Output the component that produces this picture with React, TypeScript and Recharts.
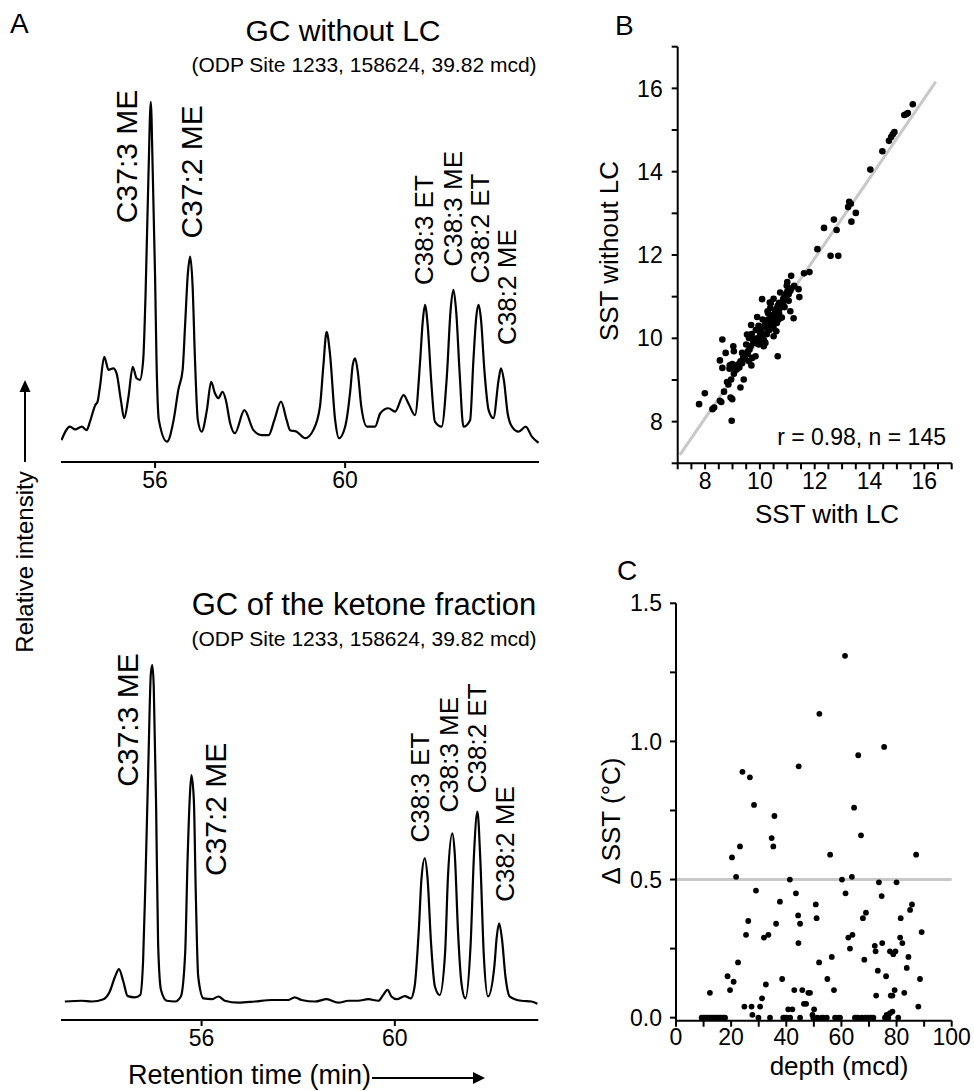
import React from 'react';
import { LineChart, Line, XAxis, YAxis, ScatterChart, Scatter, ReferenceLine, ReferenceDot } from 'recharts';

const FONT = '"Liberation Sans", Arial, Helvetica, sans-serif';

// GC traces: [retention time (min), relative intensity]
const traceWithoutLc: [number, number][] = [
  [54.03, 5.7], [54.21, 9.2], [54.32, 8.5], [54.46, 9.2], [54.56, 8.3], [54.63, 10.5], [54.74, 14.8], [54.79, 15.7],
  [54.84, 19.6], [54.93, 27.4], [55.02, 24.0], [55.12, 24.4], [55.19, 23.1], [55.28, 16.1], [55.35, 11.4], [55.44, 17.0],
  [55.53, 24.8], [55.61, 21.8], [55.68, 21.4], [55.75, 26.6], [55.80, 43.9], [55.86, 74.3], [55.91, 93.8], [55.95, 76.0],
  [56.00, 48.3], [56.03, 26.6], [56.08, 10.9], [56.25, 5.3], [56.39, 10.9], [56.49, 18.8], [56.58, 24.0], [56.63, 35.2],
  [56.69, 49.1], [56.74, 53.5], [56.79, 45.7], [56.84, 26.6], [56.90, 10.9], [56.98, 7.9], [57.09, 13.5], [57.18, 20.9],
  [57.26, 17.9], [57.33, 16.6], [57.42, 18.3], [57.49, 16.1], [57.58, 10.1], [57.68, 7.5], [57.88, 13.5], [58.07, 8.3],
  [58.25, 7.0], [58.39, 7.0], [58.51, 10.9], [58.65, 15.7], [58.77, 10.9], [58.84, 8.3], [58.98, 7.9], [59.16, 6.2],
  [59.33, 8.3], [59.47, 14.4], [59.54, 24.8], [59.61, 33.9], [59.68, 28.3], [59.79, 10.9], [59.87, 6.2], [60.00, 9.2],
  [60.11, 18.8], [60.16, 25.3], [60.21, 27.0], [60.27, 23.1], [60.34, 14.4], [60.46, 9.2], [60.63, 9.2], [60.74, 12.7],
  [60.91, 14.0], [61.05, 13.1], [61.23, 17.4], [61.33, 15.3], [61.47, 12.2], [61.58, 26.6], [61.63, 36.1], [61.68, 40.9],
  [61.74, 35.2], [61.81, 21.4], [61.89, 10.5], [62.03, 9.2], [62.14, 22.2], [62.22, 39.6], [62.28, 44.8], [62.34, 38.7],
  [62.41, 23.1], [62.49, 9.2], [62.63, 10.9], [62.70, 26.6], [62.76, 37.8], [62.81, 40.9], [62.86, 37.0], [62.93, 24.0],
  [63.02, 13.5], [63.12, 11.4], [63.23, 21.4], [63.28, 24.4], [63.34, 21.4], [63.42, 12.7], [63.51, 9.2], [63.65, 7.9],
  [63.80, 9.2], [63.93, 6.6], [64.07, 5.0],
];

const traceKetone: [number, number][] = [
  [53.17, 4.8], [53.52, 5.0], [53.73, 4.8], [53.97, 5.4], [54.10, 7.4], [54.21, 11.3], [54.29, 13.2], [54.38, 10.0],
  [54.47, 6.2], [54.62, 5.9], [54.73, 6.5], [54.79, 15.6], [54.84, 37.2], [54.90, 67.5], [54.95, 90.0], [54.98, 92.2],
  [55.01, 86.6], [55.06, 54.5], [55.10, 19.9], [55.16, 7.8], [55.28, 5.0], [55.45, 4.8], [55.57, 6.1], [55.66, 17.3],
  [55.71, 41.6], [55.76, 58.9], [55.79, 63.6], [55.84, 57.1], [55.88, 32.9], [55.93, 11.3], [56.04, 5.6], [56.21, 5.4],
  [56.35, 6.1], [56.48, 5.0], [56.76, 4.5], [57.10, 4.8], [57.45, 5.2], [57.79, 5.2], [57.93, 5.9], [58.07, 5.2],
  [58.35, 4.8], [58.59, 5.4], [58.83, 4.5], [59.04, 5.0], [59.24, 5.0], [59.45, 5.4], [59.66, 5.0], [59.76, 6.5],
  [59.85, 7.8], [59.93, 6.1], [60.04, 5.4], [60.21, 6.2], [60.33, 5.6], [60.41, 8.7], [60.50, 24.2], [60.55, 36.4],
  [60.62, 42.0], [60.68, 36.4], [60.75, 19.9], [60.83, 8.7], [60.93, 6.5], [61.04, 17.3], [61.10, 37.2], [61.19, 48.5],
  [61.24, 43.3], [61.31, 22.5], [61.38, 9.5], [61.46, 5.6], [61.57, 19.9], [61.64, 43.3], [61.71, 54.1], [61.77, 41.6],
  [61.84, 17.3], [61.93, 6.1], [62.06, 13.9], [62.11, 21.6], [62.16, 25.1], [62.22, 20.8], [62.29, 11.3], [62.38, 6.1],
  [62.62, 5.0], [62.83, 4.8], [62.95, 4.2],
];

const peakNames = ['C37:3 ME', 'C37:2 ME', 'C38:3 ET', 'C38:3 ME', 'C38:2 ET', 'C38:2 ME'];
// where each peak name starts, in (time, intensity)
const peakLabelsWithoutLc: [number, number][] = [
  [55.39, 62.2], [56.77, 58.2], [61.65, 46.1], [62.28, 50.9], [62.84, 46.5], [63.40, 30.5],
];
const peakLabelsKetone: [number, number][] = [
  [54.46, 60.6], [56.29, 37.4], [60.53, 46.1], [61.12, 53.9], [61.70, 58.9], [62.29, 30.7],
];
const retentionTicks = [56, 60];

// B: [SST with LC, SST without LC]
const sstPairs: [number, number][] = [
  [7.78, 8.42], [7.99, 8.68], [8.27, 8.30], [8.33, 8.34], [8.54, 8.50], [8.59, 8.47], [8.69, 8.72], [8.93, 8.58],
  [8.99, 8.54], [8.97, 8.02], [8.54, 9.47], [8.63, 9.97], [8.63, 9.29], [8.75, 9.65], [8.85, 8.89], [9.03, 9.81],
  [9.05, 9.69], [8.99, 9.38], [8.95, 9.01], [8.89, 9.27], [9.11, 9.33], [9.20, 9.37], [9.29, 9.45], [9.39, 9.53],
  [9.47, 9.61], [9.56, 9.69], [9.66, 9.81], [9.75, 9.89], [9.29, 8.82], [9.41, 9.01], [9.69, 9.35], [9.72, 9.53],
  [9.53, 10.09], [9.60, 10.01], [9.68, 10.32], [9.78, 9.97], [9.84, 9.89], [9.84, 9.57], [9.96, 9.85], [10.02, 10.09],
  [10.08, 10.05], [10.14, 10.09], [10.08, 10.94], [9.90, 10.51], [10.28, 10.65], [10.38, 10.73], [10.36, 10.86], [10.20, 9.89],
  [10.14, 9.81], [10.32, 10.33], [10.26, 10.25], [10.38, 10.37], [10.50, 10.25], [10.62, 10.37], [10.68, 10.45], [10.74, 10.49],
  [10.60, 10.17], [10.50, 10.05], [10.74, 10.73], [10.80, 10.82], [10.89, 10.90], [10.98, 11.26], [10.74, 11.10], [11.11, 11.14],
  [11.05, 11.06], [10.96, 10.99], [11.11, 10.65], [11.23, 10.48], [11.25, 11.26], [11.41, 11.18], [11.44, 10.99], [11.14, 11.50],
  [10.65, 9.57], [11.61, 11.56], [11.81, 11.59], [12.10, 12.14], [12.58, 11.98], [12.86, 11.98], [12.34, 12.65], [12.70, 12.85],
  [12.80, 12.60], [13.26, 13.28], [13.32, 13.23], [13.22, 13.15], [13.50, 13.01], [13.34, 12.80], [14.03, 14.05], [14.47, 14.49],
  [14.71, 14.74], [14.79, 14.83], [14.85, 14.90], [14.91, 14.95], [15.27, 15.36], [15.34, 15.38], [15.40, 15.41], [15.58, 15.62],
  [9.35, 9.40], [9.45, 9.50], [9.55, 9.62], [9.62, 9.73], [9.80, 9.95], [9.90, 10.00], [10.00, 10.15], [10.05, 10.20],
  [10.12, 10.28], [10.20, 10.35], [10.30, 10.45], [10.40, 10.50], [10.45, 10.55], [10.55, 10.62], [10.60, 10.70], [10.65, 10.78],
  [10.70, 10.85], [10.85, 10.95], [10.90, 11.05], [11.00, 11.12], [11.15, 11.20], [9.15, 9.25], [9.25, 9.30], [9.05, 9.15],
  [8.80, 8.95], [10.25, 10.10], [10.45, 10.30], [10.30, 10.60], [10.10, 10.45], [10.40, 10.85], [10.55, 10.40], [9.95, 10.30],
  [9.70, 10.10], [10.70, 10.60], [10.80, 10.50], [9.85, 10.20], [10.15, 9.95], [9.50, 9.85], [9.60, 9.45], [10.90, 10.75],
  [11.05, 10.90], [9.00, 9.30], [8.90, 9.35], [10.50, 10.95], [10.00, 9.95], [9.35, 9.65], [10.35, 10.20], [11.00, 11.35],
  [10.60, 10.50],
];
const sstTicksX = [7, 7.5, 8, 8.5, 9, 9.5, 10, 10.5, 11, 11.5, 12, 12.5, 13, 13.5, 14, 14.5, 15, 15.5, 16, 16.5, 17];
const sstTicksY = [7, 8, 9, 10, 11, 12, 13, 14, 15, 16, 17];

// C: [depth (mcd), delta SST]
const deltaPairs: [number, number][] = [
  [9.3, 0], [9.9, 0], [10.5, 0], [11.1, 0], [11.7, 0], [12.3, 0], [12.9, 0], [13.5, 0], [14.1, 0], [14.7, 0],
  [15.4, 0], [16.0, 0], [16.6, 0], [17.2, 0], [17.8, 0], [29.9, 0], [34.1, 0], [38.9, 0], [39.5, 0], [40.1, 0],
  [41.4, 0], [45.0, 0], [49.8, 0], [51.3, 0], [52.8, 0], [53.5, 0], [54.7, 0], [57.7, 0], [58.9, 0], [59.5, 0],
  [64.9, 0], [65.5, 0], [66.1, 0], [67.4, 0], [68.6, 0], [69.5, 0], [70.4, 0], [70.9, 0], [71.6, 0], [75.8, 0],
  [77.0, 0], [80.6, 0], [76.4, 0.01], [77.6, 0.016], [78.5, 0.022],
  [12.3, 0.09], [18.7, 0.15], [19.6, 0.10], [20.9, 0.13], [22.5, 0.20], [20.3, 0.58], [21.8, 0.51], [23.2, 0.62],
  [24.1, 0.89], [24.8, 0.04], [25.4, 0.30], [26.2, 0.35], [26.8, 0.87], [27.4, 0.04], [27.7, 0.01], [28.3, 0.77],
  [29.0, 0.46], [30.5, 0.04], [31.2, 0.07], [31.9, 0.29], [32.6, 0.12], [33.5, 0.30], [34.7, 0.65], [35.3, 0.62],
  [35.7, 0.73], [36.3, 0.34], [37.7, 0.42], [38.5, 0.14], [40.7, 0.03], [41.3, 0.50], [42.2, 0.03], [42.9, 0.10],
  [43.5, 0.45], [44.3, 0.37], [44.4, 0.27], [44.5, 0.91], [45.0, 0.34], [45.8, 0.10], [46.4, 0.05], [47.2, 0.05],
  [48.0, 0.09], [48.6, 0.09], [49.5, 0.01], [50.1, 0.03], [50.7, 0.41], [51.0, 0.36], [51.9, 0.20], [52.0, 1.10],
  [54.9, 0.14], [55.9, 0.59], [56.5, 0.22], [57.3, 0.10], [60.2, 0.50], [61.3, 1.31], [61.5, 0.45], [62.5, 0.29],
  [63.1, 0.25], [63.8, 0.51], [64.0, 0.30], [64.6, 0.76], [66.1, 0.95], [67.1, 0.66], [67.8, 0.36], [68.3, 0.21],
  [68.9, 0.38], [72.1, 0.26], [72.4, 0.24], [72.6, 0.08], [73.2, 0.17], [73.6, 0.49], [74.6, 0.44], [74.8, 0.27],
  [75.5, 0.98], [76.2, 0.15], [77.6, 0.24], [77.9, 0.08], [78.5, 0.08], [78.8, 0.23], [79.3, 0.10], [79.6, 0.24],
  [80.0, 0.49], [81.3, 0.29], [81.5, 0.36], [82.1, 0.27], [82.8, 0.09], [83.7, 0.18], [84.3, 0.22], [84.9, 0.39],
  [85.6, 0.41], [87.1, 0.59], [87.9, 0.04], [88.5, 0.14], [89.1, 0.31],
];
const depthTicks = [0, 10, 20, 30, 40, 50, 60, 70, 80, 90, 100];
const deltaTicks = [0, 0.25, 0.5, 0.75, 1, 1.25, 1.5];

const axisStyle = { stroke: '#000', strokeWidth: 2 };
const tickStyle = { fontSize: 23, fill: '#000', fontFamily: FONT };

function PeakLabel(props: any) {
  const vb = props.viewBox || {};
  const x = (vb.x ?? props.x ?? 0) + (vb.width || 0) / 2;
  const y = (vb.y ?? props.y ?? 0) + (vb.height || 0) / 2;
  return (
    <text x={x} y={y} transform={`rotate(-90 ${x} ${y})`} textAnchor="start" dominantBaseline="central"
      fontSize={props.size} fill="#000" fontFamily={FONT}>
      {props.text}
    </text>
  );
}

function Chromatogram({ trace, labels, domain, top, height, marginTop, axisHeight, right }: any) {
  const data = trace.map(([t, v]: [number, number]) => ({ t, v }));
  return (
    <div style={{ position: 'absolute', left: 0, top }}>
      <LineChart width={560} height={height} data={data} margin={{ top: marginTop, right, bottom: 0, left: 61 }}>
        <XAxis dataKey="t" type="number" domain={domain} allowDataOverflow ticks={retentionTicks} interval={0}
          height={axisHeight} axisLine={axisStyle} tickLine={axisStyle} tickSize={6} tickMargin={4} tick={tickStyle} />
        <YAxis type="number" domain={[0, 100]} width={0} tick={false} tickLine={false} axisLine={axisStyle} />
        <Line dataKey="v" type="monotone" stroke="#000" strokeWidth={2.2} dot={false} isAnimationActive={false} />
        {labels.map(([t, v]: [number, number], i: number) => (
          <ReferenceDot key={peakNames[i]} x={t} y={v} r={0} fill="none" stroke="none"
            label={<PeakLabel text={peakNames[i]} size={peakNames[i].startsWith('C37') ? 30 : 26} />} />
        ))}
      </LineChart>
    </div>
  );
}

const dotB = (p: any) => <circle cx={p.cx} cy={p.cy} r={3.3} fill="#000" />;
const dotC = (p: any) => <circle cx={p.cx} cy={p.cy} r={2.9} fill="#000" />;

export default function App() {
  const sstData = sstPairs.map(([x, y]) => ({ x, y }));
  const deltaData = deltaPairs.map(([x, y]) => ({ x, y }));
  return (
    <div style={{ position: 'absolute', left: 0, top: 0, width: 974, height: 1091, background: '#fff', overflow: 'hidden', fontFamily: FONT }}>
      <Chromatogram trace={traceWithoutLc} labels={peakLabelsWithoutLc} domain={[54.02, 64.08]}
        top={0} height={520} marginTop={78} axisHeight={58} right={21} />
      <Chromatogram trace={traceKetone} labels={peakLabelsKetone} domain={[53.09, 62.97]}
        top={540} height={540} marginTop={95} axisHeight={60} right={21.7} />

      <div style={{ position: 'absolute', left: 580, top: 0 }}>
        <ScatterChart width={394} height={540} margin={{ top: 46.7, right: 22.3, bottom: 0, left: 0 }}>
          <XAxis dataKey="x" type="number" domain={[7, 17]} allowDataOverflow ticks={sstTicksX} interval={0}
            tickFormatter={(v: number) => (v % 2 === 0 ? String(v) : '')} height={76.7}
            axisLine={axisStyle} tickLine={axisStyle} tickSize={6} tickMargin={3} tick={tickStyle} />
          <YAxis dataKey="y" type="number" domain={[7, 17]} allowDataOverflow ticks={sstTicksY} interval={0}
            tickFormatter={(v: number) => (v % 2 === 0 ? String(v) : '')} width={97.7}
            axisLine={axisStyle} tickLine={axisStyle} tickSize={6} tickMargin={9} tick={tickStyle} />
          <ReferenceLine segment={[{ x: 7.08, y: 7.2 }, { x: 16.42, y: 16.16 }]} stroke="#c8c8c8" strokeWidth={3} />
          <Scatter data={sstData} shape={dotB} isAnimationActive={false} />
        </ScatterChart>
      </div>

      <div style={{ position: 'absolute', left: 580, top: 540 }}>
        <ScatterChart width={394} height={551} margin={{ top: 63.3, right: 22.3, bottom: 0, left: 0 }}>
          <XAxis dataKey="x" type="number" domain={[0, 100]} allowDataOverflow ticks={depthTicks} interval={0}
            tickFormatter={(v: number) => (v % 20 === 0 ? String(v) : '')} height={70.3}
            axisLine={axisStyle} tickLine={axisStyle} tickSize={6} tickMargin={2} tick={tickStyle} />
          <YAxis dataKey="y" type="number" domain={[-0.011, 1.5]} allowDataOverflow ticks={deltaTicks} interval={0}
            tickFormatter={(v: number) => (v % 0.5 === 0 ? v.toFixed(1) : '')} width={96}
            axisLine={axisStyle} tickLine={axisStyle} tickSize={6} tickMargin={8} tick={tickStyle} />
          <ReferenceLine y={0.5} stroke="#c8c8c8" strokeWidth={3} />
          <Scatter data={deltaData} shape={dotC} isAnimationActive={false} />
        </ScatterChart>
      </div>

      <svg width={974} height={1091} style={{ position: 'absolute', left: 0, top: 0, pointerEvents: 'none' }}
        fontFamily={FONT} fill="#000">
        <text x={10} y={33} fontSize={28}>A</text>
        <text x={615} y={35} fontSize={28}>B</text>
        <text x={617} y={580} fontSize={28}>C</text>

        <text x={343} y={41} fontSize={30} textAnchor="middle">GC without LC</text>
        <text x={364} y={72} fontSize={21} textAnchor="middle">(ODP Site 1233, 158624, 39.82 mcd)</text>
        <text x={364} y={615} fontSize={31} textAnchor="middle">GC of the ketone fraction</text>
        <text x={364} y={646} fontSize={21} textAnchor="middle">(ODP Site 1233, 158624, 39.82 mcd)</text>

        <text x={24} y={562} fontSize={24} textAnchor="middle" dominantBaseline="central"
          transform="rotate(-90 24 562)">Relative intensity</text>
        <line x1={25} y1={462} x2={25} y2={390} stroke="#000" strokeWidth={2} />
        <polygon points="25,380 19.5,392 30.5,392" fill="#000" />

        <text x={128} y={1084} fontSize={27}>Retention time (min)</text>
        <line x1={372} y1={1078} x2={475} y2={1078} stroke="#000" strokeWidth={2} />
        <polygon points="485,1078 473,1072 473,1084" fill="#000" />

        <text x={609} y={251} fontSize={26} textAnchor="middle" dominantBaseline="central"
          transform="rotate(-90 609 251)">SST without LC</text>
        <text x={827} y={523} fontSize={26} textAnchor="middle">SST with LC</text>
        <text x={946} y={445} fontSize={23} textAnchor="end">r = 0.98, n = 145</text>

        <text x={611} y={821} fontSize={26} textAnchor="middle" dominantBaseline="central"
          transform="rotate(-90 611 821)">Δ SST (°C)</text>
        <text x={839} y={1075} fontSize={26} textAnchor="middle">depth (mcd)</text>
      </svg>
    </div>
  );
}
